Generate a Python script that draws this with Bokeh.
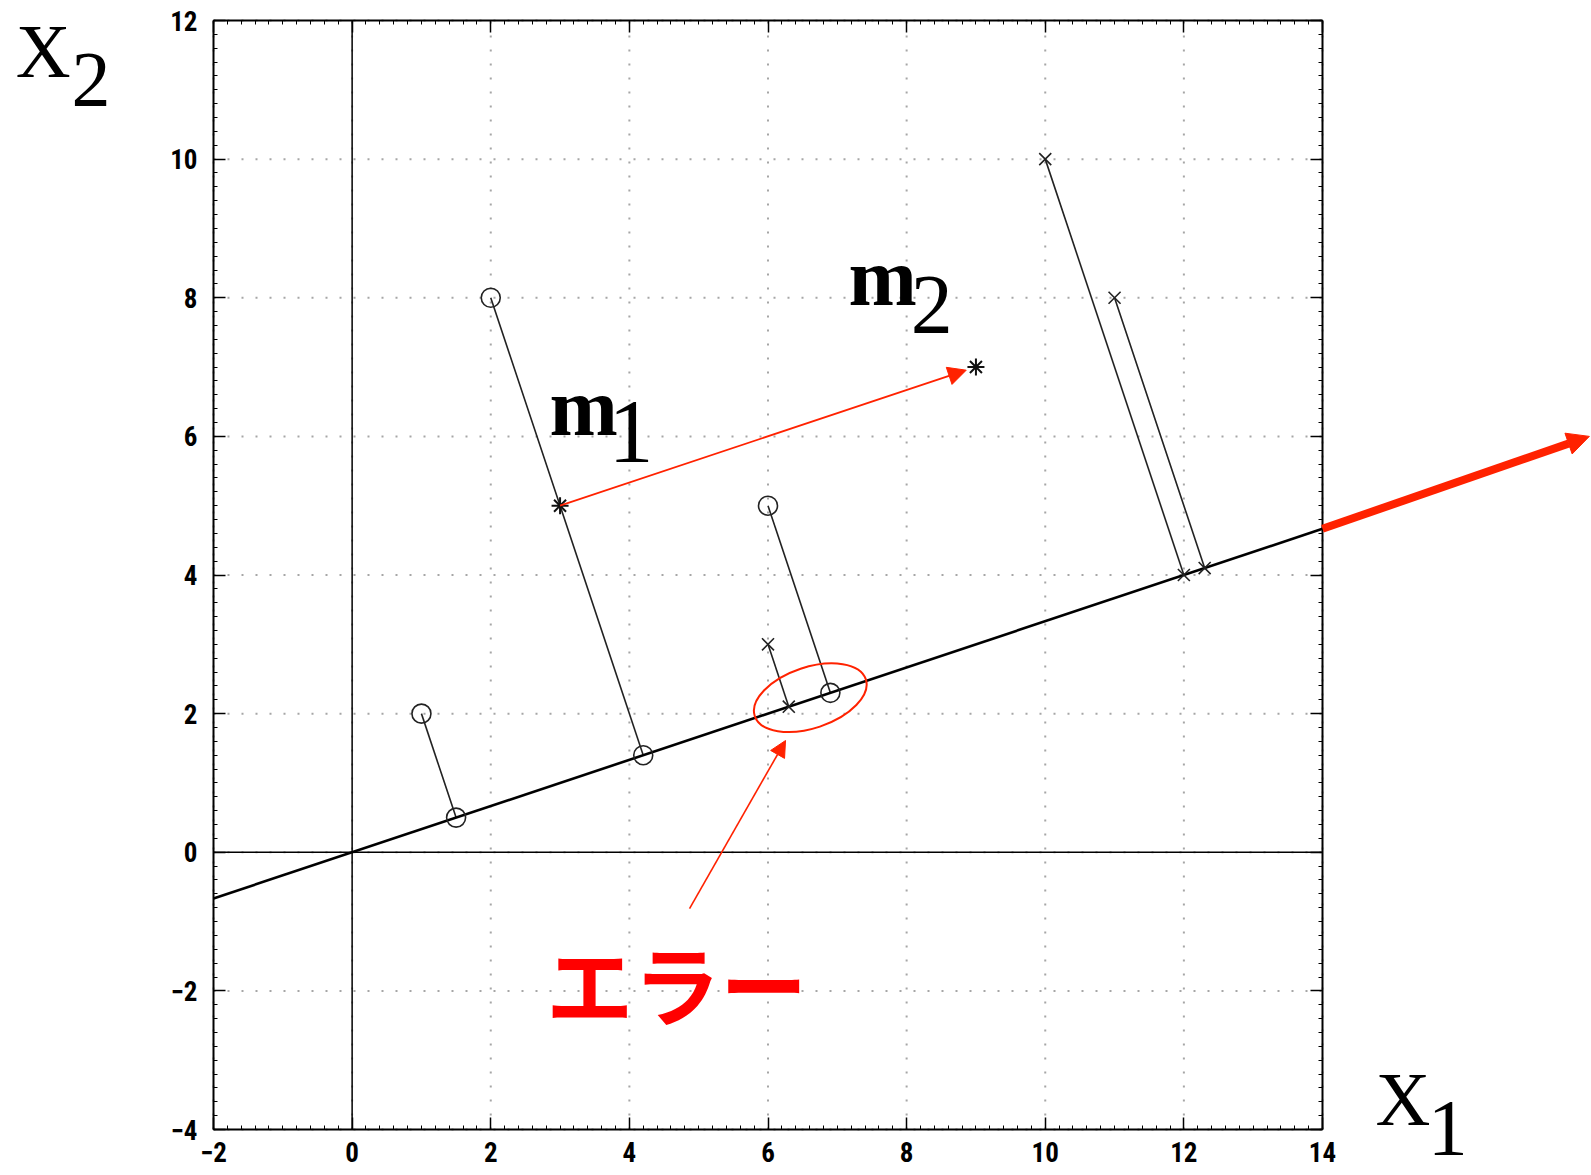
from bokeh.plotting import figure
from bokeh.models import (Arrow, NormalHead, Label, LinearAxis,
                          SingleIntervalTicker, Range1d)
from bokeh.embed import file_html
from bokeh.resources import INLINE

# samples of the two classes
class1_x = [1, 2, 6]
class1_y = [2, 8, 5]
class2_x = [6, 10, 11]
class2_y = [3, 10, 8]

# where each sample lands on the projection axis
proj1_x = [1.5, 4.2, 6.9]
proj1_y = [0.5, 1.4, 2.3]
proj2_x = [6.3, 12.0, 12.3]
proj2_y = [2.1, 4.0, 4.1]

# class means m1, m2
mean_x = [3, 9]
mean_y = [5, 7]

# projection axis through the origin, and its continuation past the box
axis_x = [-2, 14]
axis_y = [-0.667, 4.667]
ext_x = [14, 17.85]
ext_y = [4.667, 6.0]

x_ticks = [-2, 0, 2, 4, 6, 8, 10, 12, 14]
y_ticks = [-4, -2, 0, 2, 4, 6, 8, 10, 12]

RED = "#ff2200"
TICK_FONT = "Roboto Condensed, DejaVu Sans Condensed, Liberation Sans Narrow, Liberation Sans"
SERIF = "Liberation Serif"

# the plotting box spans x -2..14, y -4..12; the visible area extends past it
# so that the axis names and the outer arrow can sit in the margins
PX = 1109 / 16.0
W, H = 1591, 1175
x0 = -2 - 213 / PX
y0 = -4 - 46 / PX

p = figure(width=W, height=H, output_backend="svg", toolbar_location=None,
           x_range=Range1d(x0, x0 + W / PX), y_range=Range1d(y0, y0 + H / PX),
           x_axis_type=None, y_axis_type=None,
           min_border=0)
p.outline_line_color = None
p.background_fill_color = "white"
p.border_fill_color = "white"
p.xgrid.visible = False
p.ygrid.visible = False


def make_axis(ticks, loc, show_labels, standoff):
    ax = LinearAxis(ticker=SingleIntervalTicker(interval=2, num_minor_ticks=10),
                    fixed_location=loc, bounds=(ticks[0], ticks[-1]))
    ax.axis_line_color = "black"
    ax.axis_line_width = 2
    ax.major_tick_in = 12
    ax.major_tick_out = 0
    ax.major_tick_line_width = 1.5
    ax.minor_tick_in = 4
    ax.minor_tick_out = 0
    ax.minor_tick_line_width = 1
    ax.major_label_text_font = TICK_FONT
    ax.major_label_text_font_style = "bold"
    ax.major_label_text_font_size = "27px"
    ax.major_label_text_color = "black"
    ax.major_label_standoff = standoff
    if show_labels:
        ax.major_label_overrides = {t: (str(t) if t >= 0 else "\u2212" + str(-t)) for t in ticks}
    else:
        ax.major_label_overrides = {t: "" for t in ticks}
    return ax


p.add_layout(make_axis(x_ticks, y_ticks[0], True, 12), "below")
p.add_layout(make_axis(y_ticks, x_ticks[0], True, 16), "left")
p.add_layout(make_axis(x_ticks, y_ticks[-1], False, 0), "above")
p.add_layout(make_axis(y_ticks, x_ticks[-1], False, 0), "right")

# dotted grid at the major ticks
p.segment(x0=x_ticks, y0=[y_ticks[0]] * len(x_ticks), x1=x_ticks, y1=[y_ticks[-1]] * len(x_ticks),
          line_color="#a6a6a6", line_width=2, line_dash="2 12")
p.segment(x0=[x_ticks[0]] * len(y_ticks), y0=y_ticks, x1=[x_ticks[-1]] * len(y_ticks), y1=y_ticks,
          line_color="#a6a6a6", line_width=2, line_dash="2 12")

# coordinate axes through the origin
p.segment(x0=[0, x_ticks[0]], y0=[y_ticks[0], 0], x1=[0, x_ticks[-1]], y1=[y_ticks[-1], 0],
          line_color="black", line_width=1.5)

# drop lines from each sample to its projection
p.segment(x0=class1_x, y0=class1_y, x1=proj1_x, y1=proj1_y, line_color="#222222", line_width=1.6)
p.segment(x0=class2_x, y0=class2_y, x1=proj2_x, y1=proj2_y, line_color="#222222", line_width=1.6)

# projection axis
p.line(axis_x, axis_y, line_color="black", line_width=2.6)

# samples and their projections
p.scatter(class1_x + proj1_x, class1_y + proj1_y, marker="circle", size=19,
          fill_color=None, line_color="#222222", line_width=1.6)
p.scatter(class2_x + proj2_x, class2_y + proj2_y, marker="x", size=17,
          line_color="#222222", line_width=1.6)
p.scatter(mean_x, mean_y, marker="asterisk", size=17, line_color="#111111", line_width=2)

# m1 -> m2
p.add_layout(Arrow(x_start=mean_x[0], y_start=mean_y[0], x_end=8.86, y_end=6.955,
                   line_color=RED, line_width=1.8,
                   end=NormalHead(size=18, fill_color=RED, line_color=RED, line_width=1)))

# direction continuing beyond the box
p.add_layout(Arrow(x_start=ext_x[0], y_start=ext_y[0], x_end=ext_x[1], y_end=ext_y[1],
                   line_color=RED, line_width=8,
                   end=NormalHead(size=22, fill_color=RED, line_color=RED, line_width=1)))

# misclassified pair
p.ellipse(x=[6.61], y=[2.23], width=117, height=61, width_units="screen",
          height_units="screen", angle=0.3217, fill_color=None,
          line_color=RED, line_width=2)
p.add_layout(Arrow(x_start=4.868, y_start=-0.812, x_end=6.253, y_end=1.612,
                   line_color=RED, line_width=1.6,
                   end=NormalHead(size=16, fill_color=RED, line_color=RED, line_width=1)))
p.add_layout(Label(x=2.80, y=-1.865, text="エラー", text_font="Noto Sans CJK JP",
                   text_font_style="bold", text_font_size="87px", text_color="#ff0000",
                   text_align="left", text_baseline="middle"))


def serif_label(x, y, text, size, bold=False):
    p.add_layout(Label(x=x, y=y, text=text, text_font=SERIF,
                       text_font_style="bold" if bold else "normal",
                       text_font_size=size, text_color="black",
                       text_align="left", text_baseline="alphabetic"))


# axis names
serif_label(-4.854, 11.559, "X", "76px")
serif_label(-4.049, 11.143, "2", "78px")
serif_label(14.765, -3.561, "X", "76px")
serif_label(15.52, -3.984, "1", "80px")

# mean labels
serif_label(2.848, 6.423, "m", "82px", bold=True)
serif_label(3.70, 6.062, "1", "90px")
serif_label(7.162, 8.293, "m", "82px", bold=True)
serif_label(8.06, 7.893, "2", "84px")

open("out.html", "w").write(file_html(p, INLINE))
